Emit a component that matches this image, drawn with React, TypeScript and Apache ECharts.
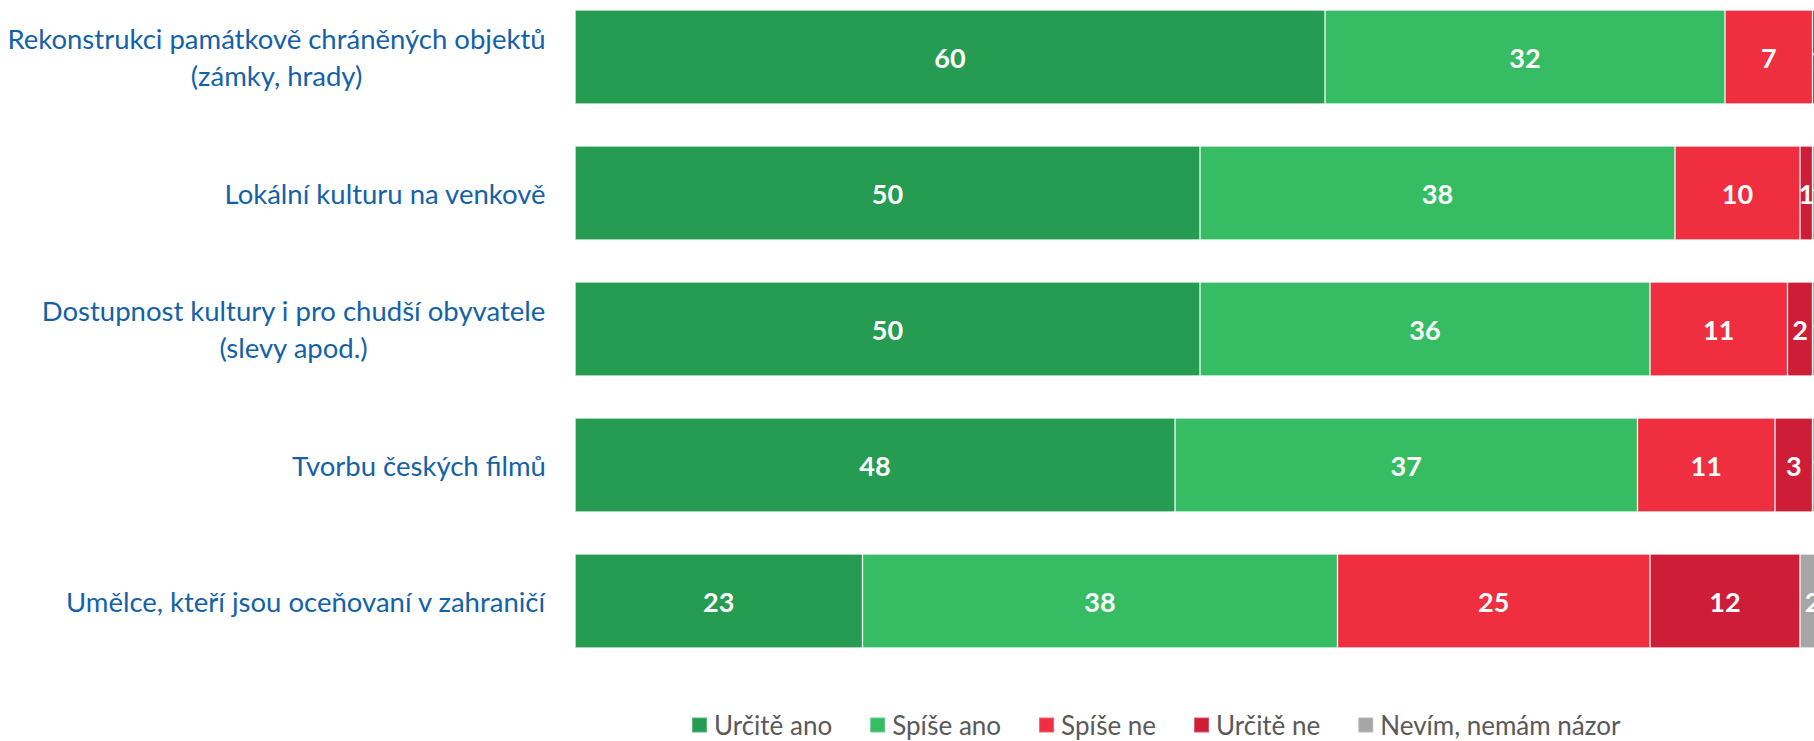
import React, { useEffect, useRef } from "react";
import * as echarts from "echarts";

const categories = [
  "Rekonstrukci památkově chráněných objektů\n(zámky, hrady)",
  "Lokální kulturu na venkově",
  "Dostupnost kultury i pro chudší obyvatele\n(slevy apod.)",
  "Tvorbu českých filmů",
  "Umělce, kteří jsou oceňovaní v zahraničí",
];
const seriesNames = ["Určitě ano", "Spíše ano", "Spíše ne", "Určitě ne", "Nevím, nemám názor"];
const urciteAno = [60, 50, 50, 48, 23];
const spiseAno = [32, 38, 36, 37, 38];
const spiseNe = [7, 10, 11, 11, 25];
const urciteNe = [1, 1, 2, 3, 12];
const nevim = [0, 1, 1, 1, 2];
const colors = ["#259C52", "#36BD63", "#EF2F40", "#CE1D37", "#A6A6A6"];

const LABEL_SIZE = 27.5;
const LABEL_FONT = `${LABEL_SIZE}px Lato`;

function measure(text: string): number {
  const c = document.createElement("canvas");
  const ctx = c.getContext("2d");
  if (!ctx) return text.length * 12;
  ctx.font = LABEL_FONT;
  return ctx.measureText(text).width;
}

export default function App() {
  const ref = useRef<HTMLDivElement>(null);
  useEffect(() => {
    if (!ref.current) return;
    const chart = echarts.init(ref.current, undefined, { renderer: "svg" });
    const rich: Record<string, any> = {};
    categories.forEach((cat, i) => {
      const w = Math.ceil(Math.max(...cat.split("\n").map(measure))) + 2;
      rich["r" + i] = {
        width: w,
        align: "center",
        fontFamily: "Lato",
        fontSize: LABEL_SIZE,
        lineHeight: 37,
        color: "#1362A8",
      };
    });
    const values = [urciteAno, spiseAno, spiseNe, urciteNe, nevim];
    chart.setOption({
      animation: false,
      grid: { left: 575, width: 1250, top: 57, height: 544, containLabel: false },
      legend: {
        top: 707,
        left: 686,
        icon: "rect",
        itemWidth: 15,
        itemHeight: 15,
        itemGap: 37,
        textStyle: { fontFamily: "Lato", fontSize: 26, color: "#595959", padding: [0, 0, 0, 2] },
        data: seriesNames,
      },
      xAxis: { type: "value", min: 0, max: 100, show: false },
      yAxis: {
        type: "category",
        inverse: true,
        boundaryGap: false,
        data: categories,
        axisLine: { show: false },
        axisTick: { show: false },
        splitLine: { show: false },
        axisLabel: {
          margin: 28,
          align: "right",
          formatter: (v: string) => {
            const i = categories.indexOf(v);
            return v
              .split("\n")
              .map((l) => `{r${i}|${l}}`)
              .join("\n");
          },
          rich,
        },
      },
      series: seriesNames.map((name, k) => ({
        name,
        type: "bar",
        stack: "total",
        barWidth: 94,
        data: values[k],
        itemStyle: { color: colors[k], borderColor: "rgba(255,255,255,0.25)", borderWidth: 1 },
        label: {
          show: true,
          position: "inside",
          color: "#FFFFFF",
          fontFamily: "Lato",
          fontWeight: "bold",
          fontSize: 27,
          formatter: (p: any) => (p.value > 0 ? String(p.value) : ""),
        },
      })),
    });
    return () => chart.dispose();
  }, []);
  return (
    <div
      ref={ref}
      style={{ position: "fixed", left: 0, top: 0, width: 1850, height: 741, background: "#fff" }}
    />
  );
}
